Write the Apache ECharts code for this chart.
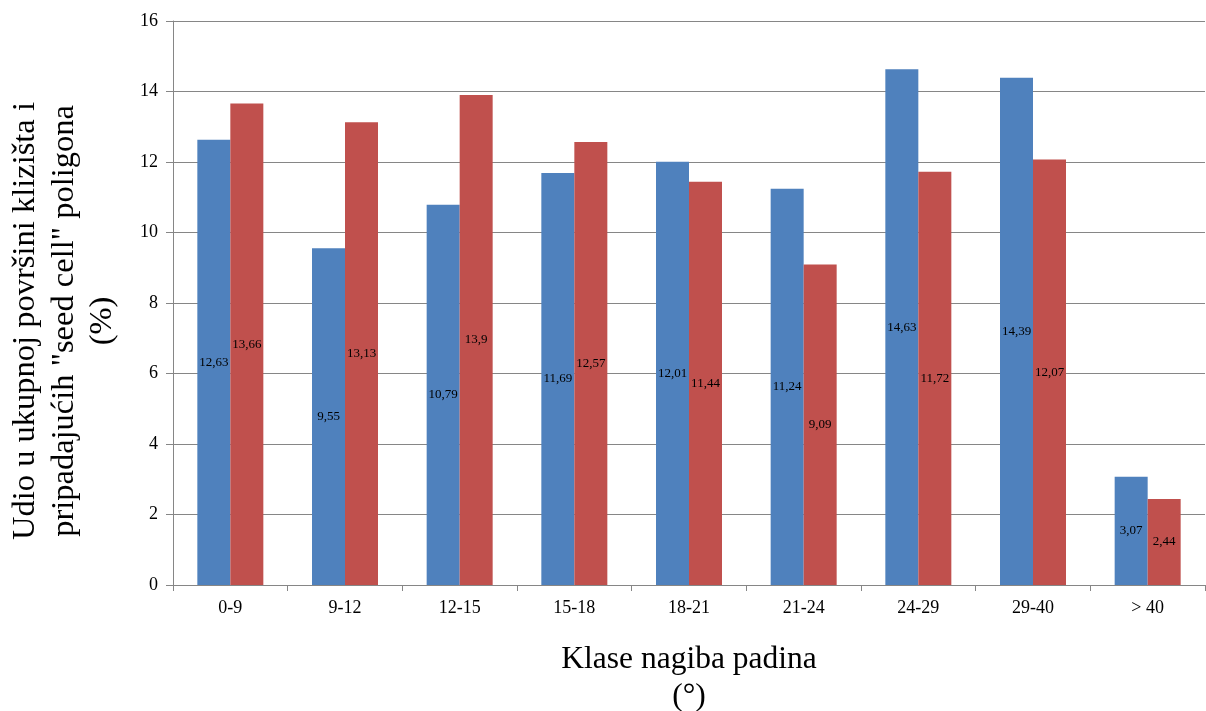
<!DOCTYPE html>
<html>
<head>
<meta charset="utf-8">
<script src="https://cdn.jsdelivr.net/npm/echarts@6/dist/echarts.min.js"></script>
<style>html,body{margin:0;padding:0;background:#fff;}#c{width:1206px;height:711px;}</style>
</head>
<body>
<div id="c"></div>
<script>
var categories = ['0-9', '9-12', '12-15', '15-18', '18-21', '21-24', '24-29', '29-40', '> 40'];
var seriesBlue = [12.63, 9.55, 10.79, 11.69, 12.01, 11.24, 14.63, 14.39, 3.07];
var seriesRed = [13.66, 13.13, 13.9, 12.57, 11.44, 9.09, 11.72, 12.07, 2.44];
var yTicks = [0, 2, 4, 6, 8, 10, 12, 14, 16];

var font = '"Liberation Serif", "Times New Roman", serif';
var chart = echarts.init(document.getElementById('c'));
function fmt(p) { return String(p.value).replace('.', ','); }
var labelCfg = { show: true, position: 'inside', formatter: fmt, color: '#000', fontFamily: font, fontSize: 13 };
chart.setOption({
  animation: false,
  grid: { left: 173, right: 1, top: 21, bottom: 126, containLabel: false, outerBoundsMode: 'none' },
  xAxis: {
    type: 'category',
    data: categories,
    name: 'Klase nagiba padina\n(°)',
    nameLocation: 'middle',
    nameGap: 56,
    nameTextStyle: { fontFamily: font, fontSize: 31.5, color: '#000', lineHeight: 37 },
    axisLine: { lineStyle: { color: '#868686', width: 1 } },
    axisTick: { show: true, length: 6, lineStyle: { color: '#868686' } },
    axisLabel: { fontFamily: font, fontSize: 18, color: '#000', margin: 14 }
  },
  yAxis: {
    type: 'value',
    min: 0, max: 16, interval: 2,
    name: 'Udio u ukupnoj površini klizišta i\npripadajućih "seed cell" poligona\n(%)',
    nameLocation: 'middle',
    nameGap: 51,
    nameTextStyle: { fontFamily: font, fontSize: 32.5, color: '#000', lineHeight: 38.5, padding: [0, 36, 0, 0] },
    axisLine: { show: true, lineStyle: { color: '#868686', width: 1 } },
    axisTick: { show: true, length: 7, lineStyle: { color: '#868686' } },
    splitLine: { lineStyle: { color: '#868686', width: 1 } },
    axisLabel: { fontFamily: font, fontSize: 18, color: '#000', margin: 15,
      formatter: function (v) { return yTicks.indexOf(v) >= 0 ? String(v) : ''; } }
  },
  series: [
    { type: 'bar', data: seriesBlue, barWidth: 33, barGap: '0%', itemStyle: { color: '#4F81BD' }, label: labelCfg },
    { type: 'bar', data: seriesRed, barWidth: 33, barGap: '0%', itemStyle: { color: '#C0504D' }, label: labelCfg }
  ]
});
</script>
</body>
</html>
